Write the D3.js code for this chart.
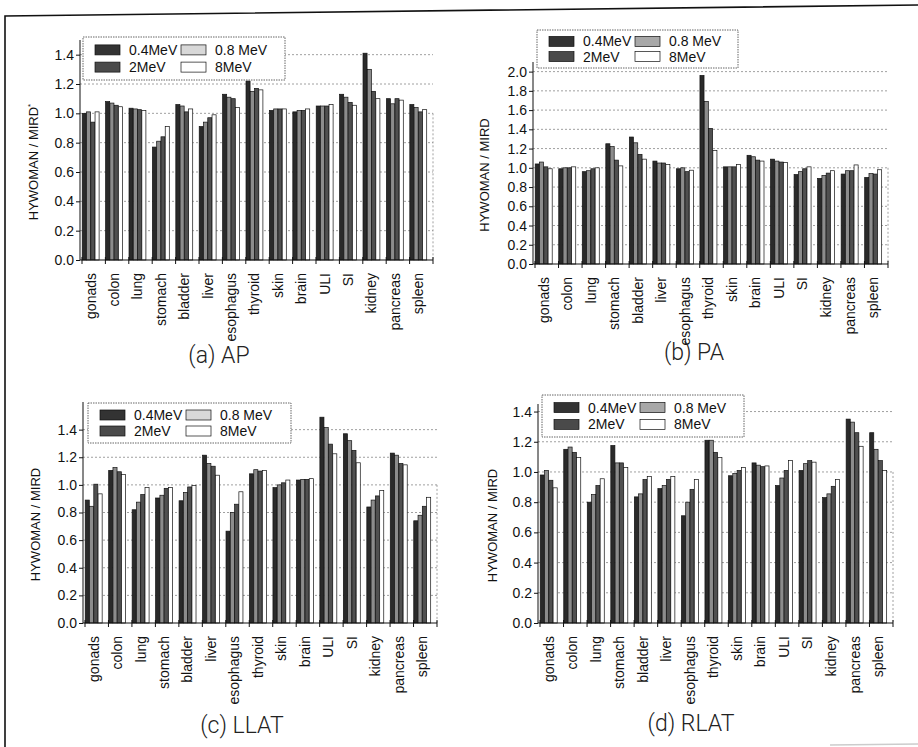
<!DOCTYPE html>
<html>
<head>
<meta charset="utf-8">
<script src="https://cdn.jsdelivr.net/npm/d3@7"></script>
<style>
  body { margin: 0; background: #fff; }
  svg { display: block; font-family: "Liberation Sans", Arial, sans-serif; }
  .grid line { stroke: #888; stroke-dasharray: 2,2; stroke-width: 0.8; }
  .title { font-family: Roboto, "Liberation Sans", sans-serif; font-weight: 300; font-size: 23px; }
</style>
</head>
<body>
<div id="chart"></div>
<script>
// organs on the x axis, same order in every panel
var organs = ['gonads', 'colon', 'lung', 'stomach', 'bladder', 'liver', 'esophagus',
    'thyroid', 'skin', 'brain', 'ULI', 'SI', 'kidney', 'pancreas', 'spleen'];
var energies = ['0.4MeV', '0.8 MeV', '2MeV', '8MeV'];

// HYWOMAN / MIRD ratios, one row per photon energy (0.4, 0.8, 2, 8 MeV)
var valuesAP = [
    [1.00, 1.08, 1.035, 0.77, 1.06, 0.91, 1.13, 1.22, 1.02, 1.01, 1.05, 1.13, 1.41, 1.10, 1.06],
    [1.01, 1.07, 1.03, 0.81, 1.05, 0.94, 1.11, 1.15, 1.03, 1.02, 1.05, 1.11, 1.30, 1.065, 1.04],
    [0.94, 1.055, 1.025, 0.84, 1.01, 0.97, 1.10, 1.17, 1.03, 1.02, 1.05, 1.075, 1.15, 1.10, 1.01],
    [1.01, 1.045, 1.02, 0.91, 1.03, 0.99, 1.04, 1.16, 1.03, 1.03, 1.06, 1.055, 1.10, 1.09, 1.025]
];
var valuesPA = [
    [1.04, 0.99, 0.96, 1.25, 1.32, 1.07, 0.99, 1.96, 1.01, 1.13, 1.09, 0.93, 0.89, 0.935, 0.90],
    [1.06, 1.00, 0.97, 1.22, 1.26, 1.05, 1.00, 1.69, 1.01, 1.115, 1.07, 0.96, 0.92, 0.97, 0.94],
    [1.01, 1.00, 0.99, 1.08, 1.14, 1.05, 0.96, 1.41, 1.01, 1.08, 1.06, 0.99, 0.945, 0.97, 0.935],
    [0.99, 1.01, 1.00, 1.02, 1.09, 1.035, 0.975, 1.18, 1.035, 1.07, 1.055, 1.01, 0.97, 1.03, 0.98]
];
var valuesLLAT = [
    [0.89, 1.105, 0.82, 0.905, 0.885, 1.215, 0.665, 1.08, 0.98, 1.035, 1.49, 1.37, 0.84, 1.23, 0.74],
    [0.845, 1.125, 0.875, 0.925, 0.945, 1.155, 0.80, 1.11, 1.00, 1.04, 1.415, 1.32, 0.89, 1.215, 0.78],
    [1.005, 1.095, 0.93, 0.975, 0.985, 1.135, 0.86, 1.10, 1.015, 1.04, 1.295, 1.25, 0.92, 1.155, 0.845],
    [0.935, 1.075, 0.98, 0.98, 0.995, 1.07, 0.95, 1.105, 1.035, 1.045, 1.225, 1.16, 0.96, 1.145, 0.91]
];
var valuesRLAT = [
    [0.98, 1.15, 0.80, 1.175, 0.835, 0.89, 0.71, 1.21, 0.975, 1.06, 0.91, 1.01, 0.83, 1.35, 1.26],
    [1.01, 1.165, 0.85, 1.06, 0.855, 0.91, 0.80, 1.21, 0.99, 1.045, 0.96, 1.055, 0.855, 1.33, 1.15],
    [0.945, 1.13, 0.91, 1.06, 0.95, 0.95, 0.885, 1.13, 1.01, 1.035, 1.01, 1.075, 0.905, 1.26, 1.075],
    [0.895, 1.095, 0.955, 1.03, 0.97, 0.97, 0.95, 1.095, 1.03, 1.04, 1.075, 1.065, 0.95, 1.17, 1.01]
];

var fills = ['#2a2a2a', '#8c8c8c', '#505050', '#ffffff'];
var legendFills = [
    ['#333', '#d8d8d8', '#4a4a4a', '#fff'],
    ['#333', '#a8a8a8', '#4a4a4a', '#fff'],
    ['#333', '#d8d8d8', '#4a4a4a', '#fff'],
    ['#333', '#a8a8a8', '#4a4a4a', '#fff']
];

var width = 918;
var height = 747;
var fontSize = 14;

var svg = d3.select('#chart').append('svg')
    .attr('width', width)
    .attr('height', height);

// scanned page frame (slightly tilted)
svg.append('path')
    .attr('d', 'M5,747 L5,16 L918,5')
    .attr('fill', 'none')
    .attr('stroke', '#111')
    .attr('stroke-width', 1.6);
svg.append('line')
    .attr('x1', 830).attr('x2', 918).attr('y1', 745).attr('y2', 744)
    .attr('stroke', '#ccc').attr('stroke-width', 1.5);

var panels = [
    { values: valuesAP, x0: 80, x1: 433, b0: 82, top: 40, y0: 260, max: 1.5, ticks: 1.4,
      label: 'HYWOMAN / MIRD', star: true, labelX: 38, legend: [83, 37, 202, 43],
      title: '(a) AP', tx: 219, ty: 363 },
    { values: valuesPA, x0: 533, x1: 888, b0: 535, top: 62, y0: 264, max: 2.1, ticks: 2.0,
      label: 'HYWOMAN / MIRD', star: false, labelX: 489, legend: [537, 30, 201, 38],
      title: '(b) PA', tx: 694, ty: 360 },
    { values: valuesLLAT, x0: 83, x1: 437, b0: 85, top: 402, y0: 623, max: 1.6, ticks: 1.4,
      label: 'HYWOMAN / MIRD', star: false, labelX: 40, legend: [88, 403, 203, 40],
      title: '(c) LLAT', tx: 242, ty: 733 },
    { values: valuesRLAT, x0: 538, x1: 893, b0: 540, top: 404, y0: 623, max: 1.45, ticks: 1.4,
      label: 'HYWOMAN / MIRD', star: false, labelX: 497, legend: [542, 395, 202, 42],
      title: '(d) RLAT', tx: 691, ty: 731 }
];

panels.forEach(function (p, pi) {
    var g = svg.append('g');

    var y = d3.scaleLinear().domain([0, p.max]).range([p.y0, p.top]);
    // each organ gets a band; the four bars sit in the left part of it
    var x = d3.scaleBand().domain(organs).range([p.b0, p.x1]).padding(0);
    var xs = d3.scaleBand().domain(d3.range(energies.length))
        .range([0, x.bandwidth() * 0.74]).padding(0.05);

    var tickVals = d3.range(0, p.ticks + 0.001, 0.2);

    // dotted grid lines
    g.append('g').attr('class', 'grid')
        .selectAll('line').data(tickVals.slice(1)).join('line')
        .attr('x1', p.x0).attr('x2', p.x1)
        .attr('y1', function (d) { return y(d); })
        .attr('y2', function (d) { return y(d); });
    g.append('line')
        .attr('x1', p.x1).attr('x2', p.x1).attr('y1', y(1.0)).attr('y2', p.y0)
        .attr('stroke', '#888').attr('stroke-dasharray', '2,2').attr('stroke-width', 0.8);

    // bars
    var series = g.append('g').selectAll('g').data(p.values).join('g')
        .attr('fill', function (d, i) { return fills[i]; });
    series.each(function (vals, si) {
        d3.select(this).selectAll('rect').data(vals).join('rect')
            .attr('x', function (d, i) { return x(organs[i]) + xs(si); })
            .attr('width', xs.bandwidth())
            .attr('y', function (d) { return y(d); })
            .attr('height', function (d) { return p.y0 - y(d); })
            .attr('stroke', '#111')
            .attr('stroke-width', 0.7);
    });

    // y axis
    var yAxis = d3.axisLeft(y).tickValues(tickVals).tickSize(4).tickFormat(d3.format('.1f'));
    var ya = g.append('g')
        .attr('transform', 'translate(' + p.x0 + ',0)')
        .call(yAxis);
    ya.attr('font-family', null).attr('font-size', null);
    ya.select('.domain').attr('d', 'M0,' + p.y0 + 'V' + p.top).attr('stroke', '#111');
    ya.selectAll('text').attr('font-size', fontSize).attr('fill', '#111').attr('x', -6);
    ya.selectAll('line').attr('stroke', '#111');

    // x axis line with ticks at organ boundaries
    g.append('line')
        .attr('x1', p.x0).attr('x2', p.x1).attr('y1', p.y0).attr('y2', p.y0)
        .attr('stroke', '#111').attr('stroke-width', 1);
    var bounds = organs.map(function (o) { return x(o); }).concat([p.x1]);
    g.append('g').selectAll('line').data(bounds).join('line')
        .attr('x1', function (d) { return d; }).attr('x2', function (d) { return d; })
        .attr('y1', p.y0 - 3).attr('y2', p.y0 + 4)
        .attr('stroke', '#111');

    g.append('g').selectAll('text').data(organs).join('text')
        .attr('transform', function (d) {
            var cx = x(d) + x.bandwidth() * 0.37;
            return 'translate(' + cx + ',' + (p.y0 + 13) + ') rotate(-90)';
        })
        .attr('text-anchor', 'end')
        .attr('dy', '0.35em')
        .attr('font-size', fontSize)
        .attr('fill', '#111')
        .text(function (d) { return d; });

    // y label
    var lab = g.append('text')
        .attr('transform', 'translate(' + p.labelX + ',' + ((p.y0 + p.top) / 2 + 12) + ') rotate(-90)')
        .attr('text-anchor', 'middle')
        .attr('font-size', 13)
        .attr('fill', '#111')
        .text(p.label);
    if (p.star) {
        lab.append('tspan').attr('dy', -5).attr('font-size', 8).text('*');
    }

    // legend
    var L = p.legend;
    var lg = g.append('g').attr('transform', 'translate(' + L[0] + ',' + L[1] + ')');
    lg.append('rect')
        .attr('width', L[2]).attr('height', L[3])
        .attr('fill', '#fff').attr('stroke', '#555')
        .attr('stroke-dasharray', '1.5,1').attr('stroke-width', 0.9);
    var cols = [12, 98];
    var rows = [L[3] * 0.3, L[3] * 0.7];
    energies.forEach(function (e, i) {
        var cx = cols[i % 2];
        var cy = rows[Math.floor(i / 2)];
        lg.append('rect')
            .attr('x', cx).attr('y', cy - 5)
            .attr('width', 25).attr('height', 10)
            .attr('fill', legendFills[pi][i])
            .attr('stroke', '#111').attr('stroke-width', 0.7);
        lg.append('text')
            .attr('x', cx + 34).attr('y', cy)
            .attr('dy', '0.35em')
            .attr('font-size', fontSize)
            .attr('fill', '#111')
            .text(e);
    });

    // panel caption
    svg.append('text')
        .attr('class', 'title')
        .attr('x', p.tx).attr('y', p.ty)
        .attr('text-anchor', 'middle')
        .attr('fill', '#222')
        .text(p.title);
});
</script>
</body>
</html>
